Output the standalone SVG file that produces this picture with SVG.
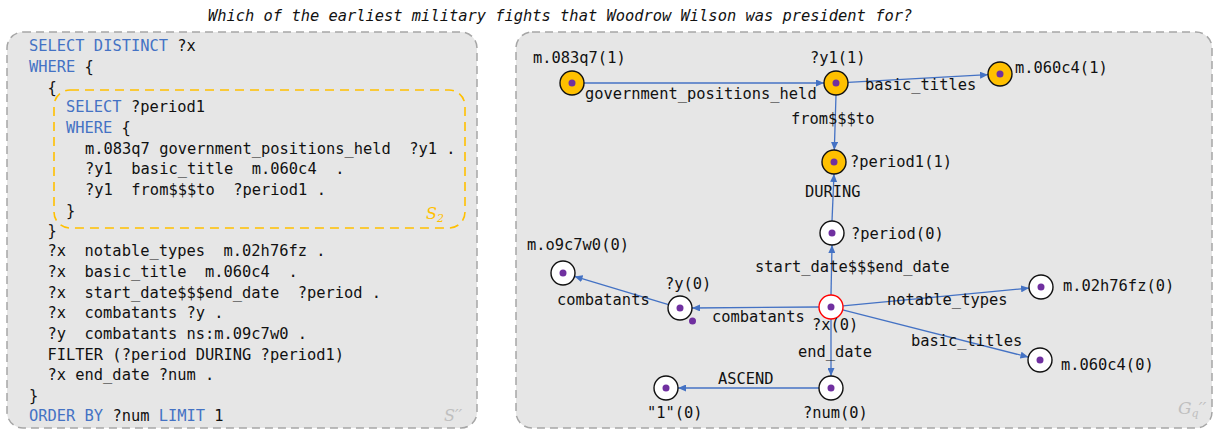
<svg xmlns="http://www.w3.org/2000/svg" width="1213" height="431" viewBox="0 0 1213 431">
<style>
.panel{fill:#e6e6e6;stroke:#a6a6a6;stroke-width:1.5;stroke-dasharray:8 5}
.sub{fill:none;stroke:#ffc000;stroke-width:1.6;stroke-dasharray:9 6}
.code{font-family:"DejaVu Sans Mono","Liberation Mono",monospace;font-size:15.4px;fill:#111;white-space:pre}
.kw{fill:#4472c4}
.title{font-family:"DejaVu Sans Mono","Liberation Mono",monospace;font-size:15.4px;font-style:italic;fill:#111}
.lbl{font-family:"DejaVu Sans Mono","Liberation Mono",monospace;font-size:15.4px;fill:#111}
.edge{stroke:#4472c4;stroke-width:1.3;fill:none;marker-end:url(#arr)}
.ny{fill:#ffc000;stroke:#111;stroke-width:1.4}
.nw{fill:#fff;stroke:#111;stroke-width:1.4}
.nr{fill:#fff;stroke:#ff0000;stroke-width:1.4}
.dot{fill:#7030a0}
.math{font-family:"DejaVu Serif","Liberation Serif",serif;font-style:italic}
</style>
<defs>
<marker id="arr" markerWidth="9" markerHeight="7" refX="8" refY="3.5" orient="auto" markerUnits="userSpaceOnUse">
<path d="M0,0 L8,3.5 L0,7 z" fill="#4472c4"/>
</marker>
</defs>
<rect width="1213" height="431" fill="#fff"/>
<text class="title" x="208" y="21">Which of the earliest military fights that Woodrow Wilson was president for?</text>

<g id="sparql-panel">
<rect class="panel" x="7" y="32" width="470" height="396" rx="16"/>
<rect class="sub" x="54" y="90" width="411" height="138" rx="16"/>
<text class="math" x="426" y="219" font-size="16" fill="#ffc000">S<tspan font-size="11" dy="3">2</tspan></text>
<text class="math" x="444" y="421" font-size="16" fill="#bfbfbf">S′′</text>
<g class="code">
<text xml:space="preserve" x="29" y="51"><tspan class="kw">SELECT DISTINCT</tspan> ?x</text>
<text xml:space="preserve" x="29" y="72"><tspan class="kw">WHERE</tspan> {</text>
<text xml:space="preserve" x="47.5" y="93">{</text>
<text xml:space="preserve" x="66" y="112"><tspan class="kw">SELECT</tspan> ?period1</text>
<text xml:space="preserve" x="66" y="133"><tspan class="kw">WHERE</tspan> {</text>
<text xml:space="preserve" x="85" y="154">m.083q7 government_positions_held  ?y1 .</text>
<text xml:space="preserve" x="85" y="174">?y1  basic_title  m.060c4  .</text>
<text xml:space="preserve" x="85" y="195">?y1  from$$$to  ?period1 .</text>
<text xml:space="preserve" x="66" y="216">}</text>
<text xml:space="preserve" x="47.5" y="236">}</text>
<text xml:space="preserve" x="47.5" y="256">?x  notable_types  m.02h76fz .</text>
<text xml:space="preserve" x="47.5" y="277">?x  basic_title  m.060c4  .</text>
<text xml:space="preserve" x="47.5" y="298">?x  start_date$$$end_date  ?period .</text>
<text xml:space="preserve" x="47.5" y="318">?x  combatants ?y .</text>
<text xml:space="preserve" x="47.5" y="339">?y  combatants ns:m.09c7w0 .</text>
<text xml:space="preserve" x="47.5" y="360">FILTER (?period DURING ?period1)</text>
<text xml:space="preserve" x="47.5" y="380">?x end_date ?num .</text>
<text xml:space="preserve" x="29" y="401">}</text>
<text xml:space="preserve" x="29" y="421"><tspan class="kw">ORDER BY</tspan> ?num <tspan class="kw">LIMIT</tspan> 1</text>
</g>
</g>

<g id="graph-panel">
<rect class="panel" x="516" y="32" width="696" height="396" rx="16"/>
<text class="math" x="1178" y="414" font-size="17" fill="#bfbfbf">G<tspan font-size="11" dy="3">q</tspan><tspan dy="-3">′′</tspan></text>
</g>

<g id="connectors">
<line class="edge" x1="584" y1="83" x2="824" y2="83"/>
<line class="edge" x1="848" y1="82.3" x2="988" y2="74.7"/>
<line class="edge" x1="836" y1="95" x2="834.3" y2="150"/>
<line class="edge" x1="832" y1="221" x2="834" y2="174"/>
<line class="edge" x1="831" y1="295" x2="832" y2="245"/>
<line class="edge" x1="819" y1="307" x2="692" y2="308"/>
<line class="edge" x1="668.5" y1="304.6" x2="574.5" y2="276.4"/>
<line class="edge" x1="843" y1="305.9" x2="1029" y2="288.1"/>
<line class="edge" x1="842.6" y1="309.9" x2="1028.4" y2="357.1"/>
<line class="edge" x1="831" y1="319" x2="831" y2="376"/>
<line class="edge" x1="819" y1="388" x2="678" y2="388"/>
<g class="lbl">
<text x="585" y="99">government_positions_held</text>
<text x="865" y="90">basic_titles</text>
<text x="791" y="124">from$$$to</text>
<text x="805" y="197">DURING</text>
<text x="755" y="272">start_date$$$end_date</text>
<text x="557" y="305">combatants</text>
<text x="712" y="322">combatants</text>
<text x="887" y="305">notable_types</text>
<text x="911" y="346">basic_titles</text>
<text x="798" y="357">end_date</text>
<text x="718" y="384">ASCEND</text>
</g>
</g>

<g id="n-m083q7"><circle class="ny" cx="572" cy="83" r="12"/><circle class="dot" cx="572" cy="83" r="3.5"/><text class="lbl" x="533" y="63">m.083q7(1)</text></g>
<g id="n-y1"><circle class="ny" cx="836" cy="83" r="12"/><circle class="dot" cx="836" cy="83" r="3.5"/><text class="lbl" x="810" y="63">?y1(1)</text></g>
<g id="n-m060c4-1"><circle class="ny" cx="1000" cy="74" r="12"/><circle class="dot" cx="1000" cy="74" r="3.5"/><text class="lbl" x="1015" y="73">m.060c4(1)</text></g>
<g id="n-period1"><circle class="ny" cx="834" cy="162" r="12"/><circle class="dot" cx="834" cy="162" r="3.5"/><text class="lbl" x="850" y="167">?period1(1)</text></g>
<g id="n-period"><circle class="nw" cx="832" cy="233" r="12"/><circle class="dot" cx="832" cy="233" r="3.5"/><text class="lbl" x="851" y="239">?period(0)</text></g>
<g id="n-m09c7w0"><circle class="nw" cx="563" cy="273" r="12"/><circle class="dot" cx="563" cy="273" r="3.5"/><text class="lbl" x="527" y="250">m.o9c7w0(0)</text></g>
<g id="n-y"><circle class="nw" cx="680" cy="308" r="12"/><circle class="dot" cx="680" cy="308" r="3.5"/><circle class="dot" cx="692.5" cy="321" r="3.5"/><text class="lbl" x="665" y="289">?y(0)</text></g>
<g id="n-x"><circle class="nr" cx="831" cy="307" r="12"/><circle class="dot" cx="831" cy="307" r="3.5"/><text class="lbl" x="812" y="330">?x(0)</text></g>
<g id="n-num"><circle class="nw" cx="831" cy="388" r="12"/><circle class="dot" cx="831" cy="388" r="3.5"/><text class="lbl" x="803" y="418">?num(0)</text></g>
<g id="n-one"><circle class="nw" cx="666" cy="388" r="12"/><circle class="dot" cx="666" cy="388" r="3.5"/><text class="lbl" x="647" y="418">"1"(0)</text></g>
<g id="n-m02h76fz"><circle class="nw" cx="1041" cy="287" r="12"/><circle class="dot" cx="1041" cy="287" r="3.5"/><text class="lbl" x="1063" y="291">m.02h76fz(0)</text></g>
<g id="n-m060c4-0"><circle class="nw" cx="1040" cy="360" r="12"/><circle class="dot" cx="1040" cy="360" r="3.5"/><text class="lbl" x="1061" y="370">m.060c4(0)</text></g>
</svg>
